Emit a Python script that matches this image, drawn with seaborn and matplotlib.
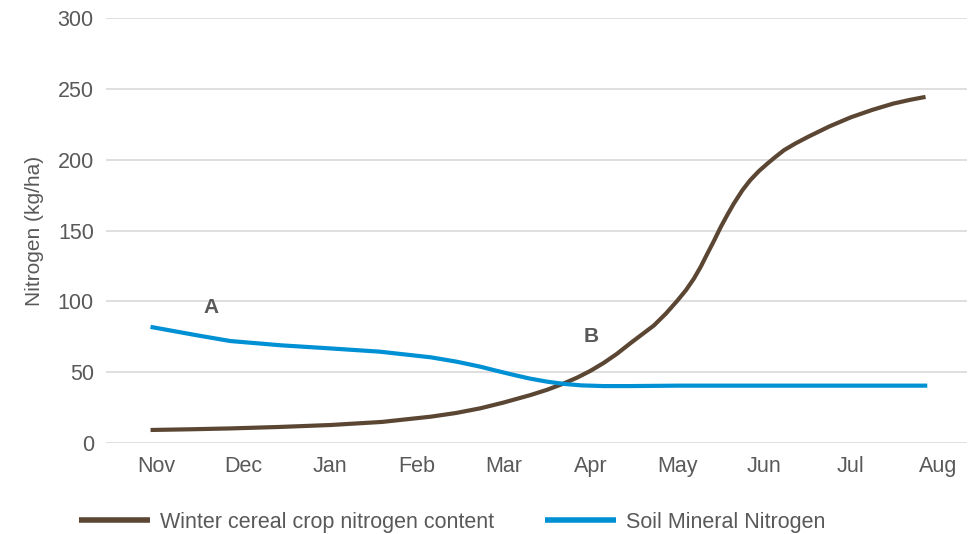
import pandas as pd
import matplotlib.pyplot as plt
import seaborn as sns

months = ["Nov", "Dec", "Jan", "Feb", "Mar", "Apr", "May", "Jun", "Jul", "Aug"]

# x positions in month units (0 = Nov)
crop_x = [-0.07, 0.4, 0.85, 1.4, 2.0, 2.6, 3.16, 3.45, 3.73, 4.0, 4.31, 4.5, 4.69,
          4.85, 5.0, 5.15, 5.3, 5.46, 5.6, 5.73, 5.87, 6.0, 6.1, 6.19, 6.27, 6.34,
          6.42, 6.5, 6.58, 6.65, 6.75, 6.84, 6.94, 7.04, 7.13, 7.23, 7.36, 7.5,
          7.75, 8.0, 8.25, 8.49, 8.68, 8.86]
crop_n = [9.2, 9.7, 10.3, 11.3, 12.7, 14.9, 18.6, 21.2, 24.5, 28.6, 33.9, 37.6, 42,
          46.3, 51, 56.5, 62.8, 70.5, 77, 83, 91.5, 100.5, 108, 116, 124.5, 133,
          142.5, 152.5, 161.5, 169, 178.5, 185.6, 192, 197.4, 202, 206.8, 211.5, 216,
          223.5, 230, 235.3, 239.7, 242.3, 244.4]

soil_x = [-0.07, 0.2, 0.47, 0.85, 1.43, 2.0, 2.57, 3.16, 3.45, 3.73, 3.93, 4.12,
          4.3, 4.5, 4.7, 4.89, 5.15, 5.46, 6.0, 7.0, 8.0, 8.88]
soil_n = [82, 79, 76, 72, 69, 66.8, 64.5, 60.5, 57.5, 53.9, 50.8, 48,
          45.5, 43.3, 41.7, 40.7, 40.2, 40.2, 40.5, 40.5, 40.5, 40.5]

crop_label = "Winter cereal crop nitrogen content"
soil_label = "Soil Mineral Nitrogen"

df = pd.concat([
    pd.DataFrame({"month": crop_x, "N": crop_n, "series": crop_label}),
    pd.DataFrame({"month": soil_x, "N": soil_n, "series": soil_label}),
])

sns.set_theme(style="white")
plt.rcParams["font.family"] = ["Liberation Sans", "DejaVu Sans"]
grey = "#595959"

fig = plt.figure(figsize=(9.75, 5.34), dpi=100)
ax = fig.add_axes([0.109, 0.1704, 0.883, 0.7956])

sns.lineplot(data=df, x="month", y="N", hue="series",
             palette={crop_label: "#5b4633", soil_label: "#0090d4"},
             linewidth=3.0, sort=False, legend=False, ax=ax)
for ln in ax.lines:
    ln.set_solid_capstyle("butt")
    ln.set_solid_joinstyle("round")

ax.set_xlim(-0.58, 9.34)
ax.set_ylim(0, 300)
ax.set_xticks(range(len(months)))
ax.set_xticklabels(months)
ax.set_yticks([0, 50, 100, 150, 200, 250, 300])
ax.yaxis.grid(True, color="#d9d9d9", linewidth=1.2)
ax.set_axisbelow(True)
for s in ax.spines.values():
    s.set_visible(False)
ax.tick_params(axis="both", labelsize=15.5, labelcolor=grey, length=0)
ax.tick_params(axis="x", pad=9)
ax.tick_params(axis="y", pad=9)
ax.set_xlabel("")
ax.set_ylabel("Nitrogen (kg/ha)", fontsize=15, color=grey, labelpad=10)

ax.text(0.63, 96, "A", fontsize=15, fontweight="bold", color=grey, ha="center", va="center")
ax.text(5.01, 75, "B", fontsize=15, fontweight="bold", color=grey, ha="center", va="center")

handles = [plt.Line2D([], [], color="#5b4633", linewidth=4, solid_capstyle="butt"),
           plt.Line2D([], [], color="#0090d4", linewidth=4, solid_capstyle="butt")]
fig.legend(handles, [crop_label, soil_label], loc="center left",
           bbox_to_anchor=(0.061, 0.022), ncol=2, frameon=False,
           fontsize=15.5, labelcolor=grey, handlelength=3.3,
           handletextpad=0.45, columnspacing=2.4)

fig.savefig("out.png", dpi=100)
